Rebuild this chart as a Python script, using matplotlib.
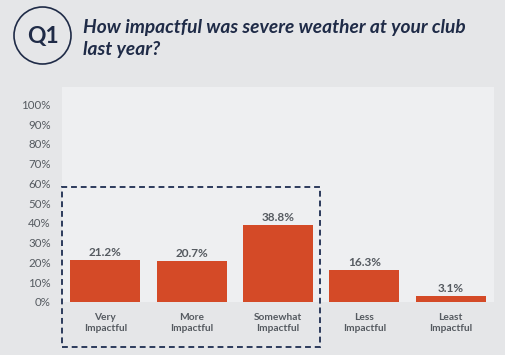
import matplotlib.pyplot as plt
from matplotlib.patches import Circle, Rectangle

# data
categories = ["Very\nImpactful", "More\nImpactful", "Somewhat\nImpactful",
              "Less\nImpactful", "Least\nImpactful"]
values = [21.2, 20.7, 38.8, 16.3, 3.1]
yticks = [0, 10, 20, 30, 40, 50, 60, 70, 80, 90, 100]

W, H = 505, 355
bg = "#e5e6e8"
panel = "#eeeff1"
navy = "#1f2b47"
bar_col = "#d44a27"
txt = "#555a60"

plt.rcParams['font.family'] = ['Lato', 'DejaVu Sans']

fig = plt.figure(figsize=(W / 100, H / 100), dpi=100, facecolor=bg)

# plot area
ax = fig.add_axes([62 / W, (H - 301.8) / H, 432 / W, (301.8 - 86.7) / H])
ax.set_facecolor(panel)
x = range(len(categories))
ax.bar(x, values, width=0.81, color=bar_col, zorder=2)
for i, v in enumerate(values):
    ax.text(i, v + 1.0, f"{v:.1f}%", ha="center", va="bottom",
            fontsize=8.5, fontweight="bold", color=txt)
ax.set_xlim(-0.5, len(categories) - 0.5)
ax.set_ylim(0, 108.9)
ax.set_yticks(yticks)
ax.set_yticklabels([f"{t}%" for t in yticks], fontsize=8.3, color=txt)
ax.set_xticks(list(x))
ax.set_xticklabels(categories, fontsize=7.3, fontweight="bold", color=txt,
                   linespacing=1.25)
ax.tick_params(axis="y", length=0, pad=8)
ax.tick_params(axis="x", length=0, pad=8)
for s in ax.spines.values():
    s.set_visible(False)

# dashed highlight box
fig.patches.append(Rectangle((62 / W, (H - 347) / H), (320 - 62) / W, (347 - 187) / H,
                             transform=fig.transFigure, fill=False,
                             edgecolor="#2c3b5c", linewidth=1.4,
                             linestyle=(0, (3, 2)), zorder=5))

# header
circ = Circle((42.5 / 100, (H - 35.5) / 100), 28.5 / 100,
              transform=fig.dpi_scale_trans,
              fill=False, edgecolor=navy, linewidth=1.2)
fig.patches.append(circ)
fig.text(42.5 / W, (H - 37) / H, "Q1", ha="center", va="center",
         fontsize=16.5, fontweight="bold", color=navy)
fig.text(83 / W, (H - 28) / H, "How impactful was severe weather at your club",
         ha="left", va="center", fontsize=13.8, fontweight="bold",
         fontstyle="italic", color=navy)
fig.text(83 / W, (H - 50) / H, "last year?",
         ha="left", va="center", fontsize=13.8, fontweight="bold",
         fontstyle="italic", color=navy)

fig.savefig("out.png", dpi=100, facecolor=bg)
